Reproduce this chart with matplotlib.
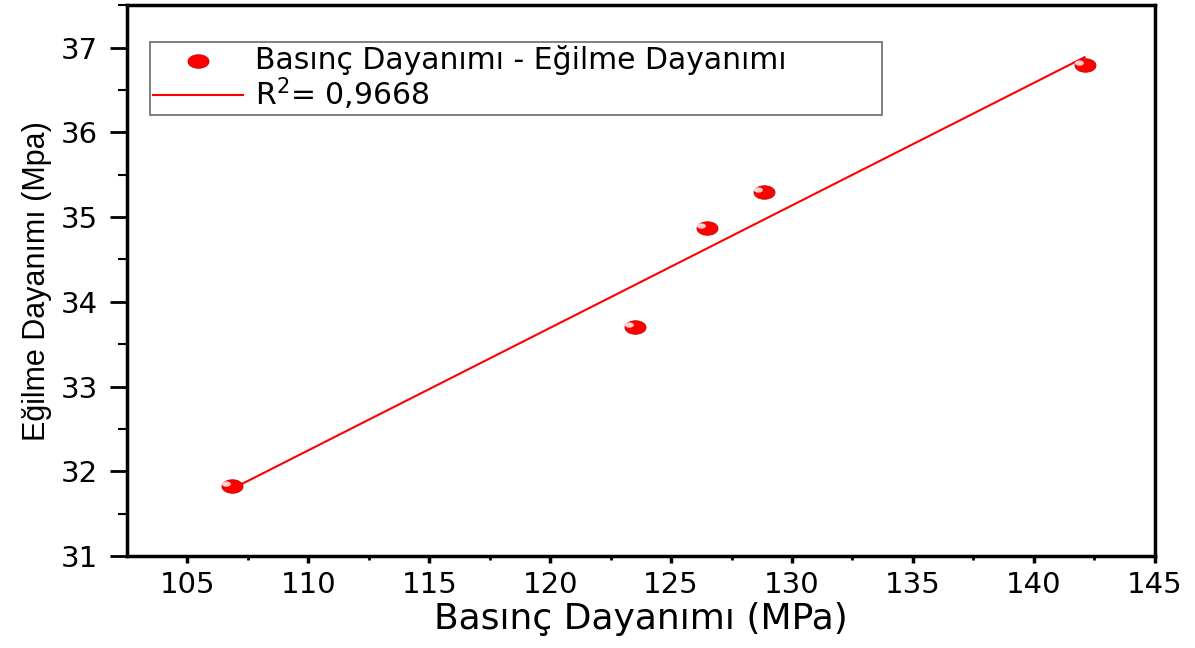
import numpy as np
import matplotlib.pyplot as plt
from matplotlib.path import Path

# compressive strength (MPa) vs flexural strength (MPa)
basinc = [106.85, 123.5, 126.5, 128.85, 142.1]
egilme = [31.83, 33.70, 34.87, 35.29, 36.79]
r2_label = "R$^2$= 0,9668"
seri_label = "Basınç Dayanımı - Eğilme Dayanımı"

plt.rcParams['font.family'] = ['DejaVu Sans']
plt.rcParams['mathtext.fontset'] = 'dejavusans'

fig = plt.figure(figsize=(11.95, 6.48), dpi=100)
ax = fig.add_axes([0.1063, 0.142, 0.86, 0.850])

# linear fit
k, b = np.polyfit(basinc, egilme, 1)
xs = np.array([min(basinc), max(basinc)])
line, = ax.plot(xs, k * xs + b, color='red', lw=1.5, zorder=2)

# flattened sphere marker
t = np.linspace(0, 2 * np.pi, 60)
ell = Path(np.column_stack([np.cos(t), 0.64 * np.sin(t)]), closed=True)
hl = Path(np.column_stack([0.22 * np.cos(t) - 0.3, 0.13 * np.sin(t) + 0.12]), closed=True)
pts = ax.scatter(basinc, egilme, marker=ell, s=230, color='#ff0000',
                 edgecolors='#cc0000', linewidths=0.6, zorder=3)
ax.scatter(basinc, egilme, marker=hl, s=230, color='#ffd0d0',
           linewidths=0, zorder=4)

ax.set_xlim(102.5, 145)
ax.set_ylim(31, 37.5)
ax.set_xticks(np.arange(105, 146, 5))
ax.set_yticks(np.arange(31, 38, 1))
ax.set_xticks(np.arange(107.5, 145, 5), minor=True)
ax.set_yticks(np.arange(31.5, 37.6, 1), minor=True)
ax.tick_params(axis='x', which='major', direction='out', length=5, width=2.5, labelsize=21, pad=6)
ax.tick_params(axis='x', which='minor', direction='out', length=3, width=2)
ax.tick_params(axis='y', which='major', direction='out', length=12, width=2, labelsize=21, pad=9)
ax.tick_params(axis='y', which='minor', direction='out', length=6.5, width=1.5)
for s in ax.spines.values():
    s.set_linewidth(2.5)

ax.set_xlabel('Basınç Dayanımı (MPa)', fontsize=26, labelpad=2)
ax.set_ylabel('Eğilme Dayanımı (Mpa)', fontsize=22, labelpad=6,
              family=['Liberation Sans', 'DejaVu Sans'])

leg = ax.legend([pts, line], [seri_label, r2_label], loc='upper left',
                bbox_to_anchor=(0.0224, 0.803, 0.712, 0.13), mode='expand',
                fontsize=21.5, frameon=True, fancybox=False, edgecolor='#444444',
                handlelength=3.0, borderpad=0.1, labelspacing=0.0,
                handletextpad=0.42, borderaxespad=0, scatterpoints=1)
leg.get_frame().set_linewidth(1.2)

fig.savefig('out.png', dpi=100)
